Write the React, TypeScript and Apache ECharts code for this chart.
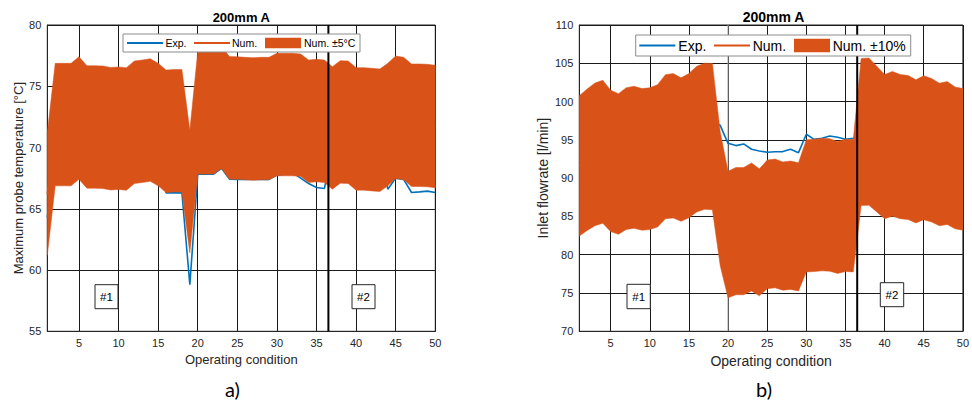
import React, { useEffect, useRef } from "react";
import * as echarts from "echarts";

// ---------- data ----------
const conditions = [
  1, 2, 3, 4, 5, 6, 7, 8, 9, 10, 11, 12, 13, 14, 15, 16, 17, 18, 19, 20, 21, 22, 23, 24, 25,
  26, 27, 28, 29, 30, 31, 32, 33, 34, 35, 36, 37, 38, 39, 40, 41, 42, 43, 44, 45, 46, 47, 48, 49, 50,
];
const xTickValues = [5, 10, 15, 20, 25, 30, 35, 40, 45, 50];

// a) Maximum probe temperature [°C]
const tempNum = [
  66.2, 71.87, 71.87, 71.87, 72.41, 71.68, 71.68, 71.65, 71.54, 71.57,
  71.52, 72.06, 72.14, 72.25, 71.87, 71.32, 71.37, 71.37, 66.4, 72.83,
  72.83, 72.83, 73.29, 72.42, 72.41, 72.36, 72.33, 72.36, 72.36, 72.69,
  72.69, 72.69, 72.63, 72.14, 72.2, 72.14, 71.6, 72.09, 72.06, 71.52,
  71.52, 71.46, 71.41, 71.87, 72.47, 72.36, 71.82, 71.82, 71.79, 71.71,
];
const tempExp = [
  64.3, 69.5, 70.0, 69.8, 70.3, 69.7, 69.5, 69.6, 69.4, 69.5,
  69.3, 69.9, 70.1, 70.2, 69.6, 66.3, 66.3, 66.3, 58.8, 67.83,
  67.83, 67.83, 68.3, 67.42, 67.4, 67.4, 67.4, 67.4, 67.4, 67.75,
  67.83, 67.94, 67.5, 67.06, 66.74, 66.66, 70.0, 70.5, 70.8, 70.2,
  70.0, 69.8, 70.0, 66.6, 67.5, 67.4, 66.33, 66.38, 66.44, 66.33,
];
const tempYTicks = { min: 55, max: 80, interval: 5 };
const tempTolerance = 5; // ±5 °C

// b) Inlet flowrate [l/min]
const flowNum = [
  91.6, 92.4, 93.1, 93.45, 92.26, 91.85, 92.56, 92.72, 92.45, 92.54,
  92.92, 94.1, 94.23, 93.73, 94.24, 95.1, 95.47, 95.43, 87.3, 82.64,
  83.08, 83.08, 83.62, 82.92, 83.96, 84.08, 83.75, 83.85, 83.64, 86.38,
  86.45, 86.55, 86.5, 86.18, 86.45, 86.4, 96.03, 96.07, 95.1, 94.12,
  94.48, 94.12, 94.0, 93.51, 93.97, 93.65, 93.09, 93.28, 92.65, 92.45,
];
const flowExp = [
  92.3, 93.0, 93.5, 94.0, 93.6, 93.2, 93.8, 94.0, 93.9, 94.1,
  94.5, 95.4, 95.6, 95.3, 95.8, 96.5, 97.0, 97.4, 96.9, 94.55,
  94.25, 94.47, 93.77, 93.55, 93.38, 93.45, 93.47, 93.77, 93.33, 95.73,
  95.07, 95.2, 95.5, 95.33, 95.07, 95.2, 95.6, 95.8, 95.4, 95.0,
  95.2, 95.0, 94.9, 94.6, 94.9, 94.7, 94.4, 94.5, 94.2, 94.0,
];
const flowYTicks = { min: 70, max: 110, interval: 5 };
const flowTolerance = 0.1; // ±10 %

const dividerCondition = 36.5;
const flowMarkerCondition = 20;

const BLUE = "#0072BD";
const ORANGE = "#D95319";
const INK = "#262626";
const FONT = "'Liberation Sans', Arial, sans-serif";

const pairs = (vals: number[]) => conditions.map((c, i) => [c, vals[i]]);

function axisPair(idx: number, yName: string, yt: { min: number; max: number; interval: number }, fs: number, yGap: number, xGap: number) {
  const xAxis = {
    type: "value",
    gridIndex: idx,
    min: 1,
    max: 50,
    name: "Operating condition",
    nameLocation: "middle",
    nameGap: xGap,
    nameTextStyle: { color: INK, fontSize: fs, fontFamily: FONT },
    axisLine: { show: true, lineStyle: { color: INK, width: 1 } },
    axisTick: { show: false, customValues: xTickValues },
    axisLabel: { color: INK, fontSize: 11, fontFamily: FONT, margin: 6, customValues: xTickValues },
    splitLine: { show: true, lineStyle: { color: "#1a1a1a", width: 1 } },
  };
  const yAxis = {
    type: "value",
    gridIndex: idx,
    min: yt.min,
    max: yt.max,
    interval: yt.interval,
    name: yName,
    nameLocation: "middle",
    nameGap: yGap,
    nameTextStyle: { color: INK, fontSize: fs, fontFamily: FONT },
    axisLine: { show: true, lineStyle: { color: INK, width: 1 } },
    axisTick: { show: false },
    axisLabel: { color: INK, fontSize: 11, fontFamily: FONT, margin: 6 },
    splitLine: { show: true, lineStyle: { color: "#1a1a1a", width: 1 } },
  };
  return { xAxis, yAxis };
}

function bandRenderItem(params: any, api: any) {
  if (params.dataIndexInside !== 0) return null;
  const n = params.dataInsideLength;
  const top: number[][] = [];
  const bot: number[][] = [];
  for (let i = 0; i < n; i++) {
    const x = api.value(0, i);
    top.push(api.coord([x, api.value(2, i)]));
    bot.push(api.coord([x, api.value(1, i)]));
  }
  return {
    type: "polygon",
    shape: { points: top.concat(bot.reverse()) },
    style: { fill: ORANGE, stroke: ORANGE, lineWidth: 0.5 },
  };
}

function panelSeries(
  idx: number,
  exp: number[],
  num: number[],
  lower: number[],
  upper: number[],
  bandName: string,
  yt: { min: number; max: number },
  extraGrey: number | null
) {
  const s: any[] = [];
  if (extraGrey !== null) {
    s.push({
      type: "line",
      name: "marker" + idx,
      xAxisIndex: idx,
      yAxisIndex: idx,
      data: [
        [extraGrey, yt.min],
        [extraGrey, yt.max],
      ],
      symbol: "none",
      silent: true,
      lineStyle: { color: "#9a9a9a", width: 1 },
      z: 1,
    });
  }
  s.push(
    {
      type: "line",
      name: "Exp.",
      xAxisIndex: idx,
      yAxisIndex: idx,
      data: pairs(exp),
      symbol: "none",
      lineStyle: { color: BLUE, width: 1.6 },
      itemStyle: { color: BLUE },
      z: 2,
    },
    {
      type: "line",
      name: "Num.",
      xAxisIndex: idx,
      yAxisIndex: idx,
      data: pairs(num),
      symbol: "none",
      lineStyle: { color: ORANGE, width: 1.6 },
      itemStyle: { color: ORANGE },
      z: 2,
    },
    {
      type: "custom",
      name: bandName,
      xAxisIndex: idx,
      yAxisIndex: idx,
      data: conditions.map((c, i) => [c, lower[i], upper[i]]),
      encode: { x: 0, y: [1, 2] },
      renderItem: bandRenderItem,
      itemStyle: { color: ORANGE },
      silent: true,
      z: 3,
    },
    {
      type: "line",
      name: "divider" + idx,
      xAxisIndex: idx,
      yAxisIndex: idx,
      data: [
        [dividerCondition, yt.min],
        [dividerCondition, yt.max],
      ],
      symbol: "none",
      silent: true,
      lineStyle: { color: "#000", width: 2 },
      z: 10,
    }
  );
  return s;
}

function legendGraphic(box: { x: number; y: number; w: number; h: number }, items: { l1: number; t1: number; l2: number; t2: number; r: number; rh: number; t3: number }, labels: string[], fs: number) {
  const cy = box.y + box.h / 2;
  const ts = (x: number, text: string) => ({
    type: "text",
    z: 101,
    x,
    y: cy,
    style: { text, fill: "#000", font: `${fs}px ${FONT}`, textAlign: "left", textVerticalAlign: "middle" },
  });
  return [
    { type: "rect", z: 100, shape: { x: box.x, y: box.y, width: box.w, height: box.h }, style: { fill: "#fff", stroke: "#8c8c8c", lineWidth: 1 } },
    { type: "line", z: 101, shape: { x1: items.l1, y1: cy, x2: items.l1 + 36, y2: cy }, style: { stroke: BLUE, lineWidth: 2 } },
    ts(items.t1, labels[0]),
    { type: "line", z: 101, shape: { x1: items.l2, y1: cy, x2: items.l2 + 36, y2: cy }, style: { stroke: ORANGE, lineWidth: 2 } },
    ts(items.t2, labels[1]),
    { type: "rect", z: 101, shape: { x: items.r, y: cy - items.rh / 2, width: 36, height: items.rh }, style: { fill: ORANGE } },
    ts(items.t3, labels[2]),
  ];
}

function tagBox(x: number, y: number, w: number, h: number, text: string) {
  return [
    { type: "rect", z: 100, shape: { x, y, width: w, height: h }, style: { fill: "#fff", stroke: INK, lineWidth: 1 } },
    {
      type: "text",
      z: 101,
      x: x + w / 2,
      y: y + h / 2,
      style: { text, fill: "#000", font: `11.5px ${FONT}`, textAlign: "center", textVerticalAlign: "middle" },
    },
  ];
}

export default function App() {
  const ref = useRef<HTMLDivElement>(null);
  useEffect(() => {
    if (!ref.current) return;
    const chart = echarts.init(ref.current, undefined, { renderer: "svg" });

    const tempLower = tempNum.map((v) => v - tempTolerance);
    const tempUpper = tempNum.map((v) => v + tempTolerance);
    const flowLower = flowNum.map((v) => v * (1 - flowTolerance));
    const flowUpper = flowNum.map((v) => v * (1 + flowTolerance));

    const a = axisPair(0, "Maximum probe temperature [°C]", tempYTicks, 13, 22, 22);
    const b = axisPair(1, "Inlet flowrate [l/min]", flowYTicks, 14, 29, 23);

    const option: any = {
      animation: false,
      backgroundColor: "#fff",
      textStyle: { fontFamily: FONT },
      grid: [
        { left: 47.3, top: 25, width: 388, height: 306.3, show: true, borderColor: INK, borderWidth: 1, backgroundColor: "transparent" },
        { left: 579.3, top: 25, width: 388.6, height: 306.3, show: true, borderColor: INK, borderWidth: 1, backgroundColor: "transparent" },
      ],
      xAxis: [a.xAxis, b.xAxis],
      yAxis: [a.yAxis, b.yAxis],
      series: [
        ...panelSeries(0, tempExp, tempNum, tempLower, tempUpper, "Num. ±5°C", tempYTicks, null),
        ...panelSeries(1, flowExp, flowNum, flowLower, flowUpper, "Num. ±10%", flowYTicks, flowMarkerCondition),
      ],
      graphic: [
        { type: "text", z: 100, x: 241.3, y: 17, style: { text: "200mm A", fill: "#000", font: `bold 13px ${FONT}`, textAlign: "center", textVerticalAlign: "middle" } },
        { type: "text", z: 100, x: 773.5, y: 17, style: { text: "200mm A", fill: "#000", font: `bold 14px ${FONT}`, textAlign: "center", textVerticalAlign: "middle" } },
        ...legendGraphic({ x: 123, y: 34, w: 237, h: 18 }, { l1: 127, t1: 165.5, l2: 194, t2: 232, r: 265, rh: 10.4, t3: 304 }, ["Exp.", "Num.", "Num. ±5°C"], 10.5),
        ...legendGraphic({ x: 635.7, y: 35, w: 275, h: 21 }, { l1: 639.3, t1: 678.3, l2: 714, t2: 752.7, r: 794, rh: 13.4, t3: 832.7 }, ["Exp.", "Num.", "Num. ±10%"], 14),
        ...tagBox(95, 284.7, 23, 24, "#1"),
        ...tagBox(352, 284.7, 23, 24, "#2"),
        ...tagBox(627, 284.3, 23.3, 24.4, "#1"),
        ...tagBox(880.3, 282.7, 23.4, 24, "#2"),
        { type: "text", z: 100, x: 232.5, y: 389, style: { text: "a)", fill: "#000", font: `20px Lato, 'Open Sans', sans-serif`, textAlign: "center", textVerticalAlign: "middle" } },
        { type: "text", z: 100, x: 764, y: 389, style: { text: "b)", fill: "#000", font: `20px Lato, 'Open Sans', sans-serif`, textAlign: "center", textVerticalAlign: "middle" } },
      ],
    };
    chart.setOption(option);
    return () => chart.dispose();
  }, []);
  return <div ref={ref} style={{ position: "fixed", left: 0, top: 0, width: 972, height: 403, background: "#fff" }} />;
}
